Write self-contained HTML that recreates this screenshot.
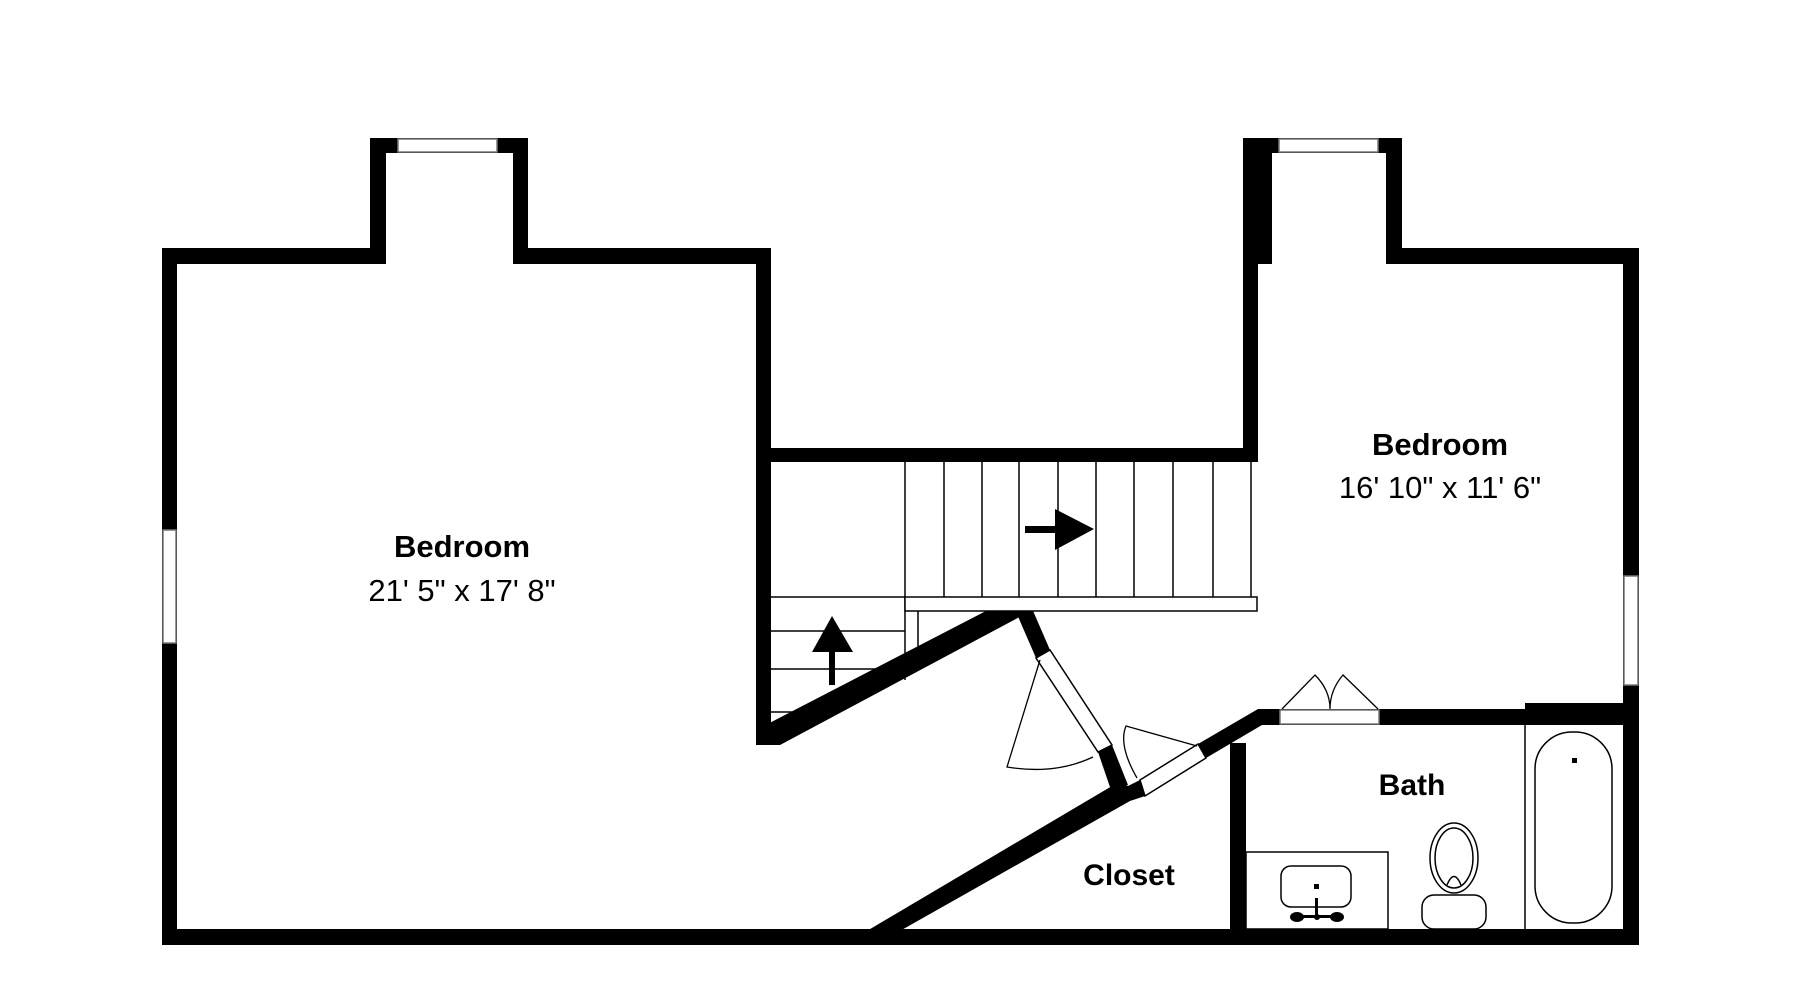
<!DOCTYPE html>
<html><head><meta charset="utf-8"><style>html,body{margin:0;padding:0;background:#fff;}svg{display:block}</style></head>
<body>
<svg width="1800" height="1000" viewBox="0 0 1800 1000" xmlns="http://www.w3.org/2000/svg" font-family="Liberation Sans, Arial, sans-serif">
<rect width="1800" height="1000" fill="#fff"/>
<g fill="#000">
<rect x="162" y="248" width="15" height="697"/>
<rect x="162" y="248" width="224" height="16"/>
<rect x="370" y="138" width="16" height="126"/>
<rect x="370" y="138" width="158" height="15"/>
<rect x="513" y="138" width="15" height="126"/>
<rect x="513" y="248" width="258" height="16"/>
<rect x="756" y="248" width="15" height="497"/>
<rect x="756" y="448" width="502" height="14"/>
<rect x="1243" y="138" width="15" height="324"/>
<rect x="1243" y="138" width="159" height="15"/>
<rect x="1258" y="153" width="14" height="111"/>
<rect x="1386" y="138" width="16" height="126"/>
<rect x="1386" y="248" width="253" height="16"/>
<rect x="1623" y="248" width="16" height="697"/>
<rect x="162" y="929" width="1477" height="16"/>
<rect x="1260" y="709" width="379" height="16"/>
<rect x="1525" y="703" width="114" height="22"/>
<rect x="1230" y="743" width="16" height="190"/>
<polygon points="756,730 1013,597 1027,597 1027,613 780,745 756,745"/>
<polygon points="1013,605 1027,597 1050,650 1036,658"/>
<polygon points="1098,752 1112,745 1128,785 1112,793"/>
<polygon points="1112,786 1130,786 1130,801 875,945 860,945 860,935"/>
<polygon points="1128,786 1140,780 1145,796 1130,801"/>
<polygon points="1198,744 1258,709 1272,709 1272,725 1262,725 1206,758"/>
</g>
<g fill="#fff" stroke="#777" stroke-width="1.5">
<rect x="398" y="139" width="99" height="13"/>
<rect x="1279" y="139" width="99" height="13"/>
<rect x="163" y="530" width="13" height="113"/>
<rect x="1624" y="576" width="14" height="109"/>
<rect x="1280" y="710" width="99" height="14"/>
</g>
<g fill="#fff" stroke="#000" stroke-width="1.5">
<polygon points="1036,658 1050,650 1112,745 1098,752"/>
<polygon points="1140,780 1198,744 1206,758 1145,796"/>
</g>
<g stroke="#000" stroke-width="1.5" fill="none">
<line x1="905" y1="462" x2="905" y2="680"/>
<line x1="944" y1="462" x2="944" y2="597"/>
<line x1="982" y1="462" x2="982" y2="597"/>
<line x1="1019" y1="462" x2="1019" y2="597"/>
<line x1="1058" y1="462" x2="1058" y2="597"/>
<line x1="1096" y1="462" x2="1096" y2="597"/>
<line x1="1134" y1="462" x2="1134" y2="597"/>
<line x1="1173" y1="462" x2="1173" y2="597"/>
<line x1="1213" y1="462" x2="1213" y2="597"/>
<line x1="1251" y1="462" x2="1251" y2="597"/>
<rect x="905" y="597" width="352" height="14" fill="#fff"/>
<line x1="918" y1="611" x2="918" y2="652"/>
<line x1="771" y1="597" x2="905" y2="597"/>
<line x1="771" y1="631" x2="905" y2="631"/>
<line x1="771" y1="669" x2="890" y2="669"/>
<line x1="771" y1="712" x2="808" y2="712"/>
</g>
<g fill="#000">
<rect x="1025" y="526" width="32" height="7"/>
<polygon points="1055,509 1094,529 1055,550"/>
<polygon points="832,616 853,652 812,652"/>
<rect x="829" y="651" width="6" height="34"/>
</g>
<g stroke="#000" stroke-width="1.3" fill="none">
<path d="M1040,660 L1007,767 Q1055,775 1093,757"/>
<path d="M1137,778 Q1118,745 1126,726 L1197,746"/>
<path d="M1282,709 L1315,675 Q1330,690 1330,709 Q1330,690 1343,675 L1378,709"/>
</g>
<g stroke="#000" stroke-width="1.5" fill="none">
<line x1="1525" y1="725" x2="1525" y2="929"/>
<rect x="1535" y="732" width="77" height="191" rx="37"/>
<rect x="1246" y="852" width="142" height="77"/>
<rect x="1281" y="866" width="70" height="41" rx="10"/>
<ellipse cx="1454" cy="858" rx="24" ry="35"/>
<ellipse cx="1454" cy="858" rx="19" ry="30"/>
<path d="M1447,885 Q1454,868 1461,885"/>
<rect x="1422" y="895" width="64" height="34" rx="12"/>
</g>
<g fill="#000">
<rect x="1572" y="758" width="5" height="5"/>
<rect x="1314" y="884" width="5" height="5"/>
<rect x="1315" y="898" width="3" height="18"/>
<rect x="1292" y="915" width="50" height="3"/>
<ellipse cx="1297" cy="917" rx="7" ry="5"/>
<ellipse cx="1337" cy="917" rx="7" ry="5"/>
<circle cx="1317" cy="917" r="3"/>
</g>
<g fill="#000" text-anchor="middle">
<text x="462" y="557" font-size="31" font-weight="bold">Bedroom</text>
<text x="462" y="601" font-size="31">21' 5" x 17' 8"</text>
<text x="1440" y="455" font-size="31" font-weight="bold">Bedroom</text>
<text x="1440" y="498" font-size="31">16' 10" x 11' 6"</text>
<text x="1412" y="795" font-size="30" font-weight="bold">Bath</text>
<text x="1129" y="885" font-size="30" font-weight="bold">Closet</text>
</g>
</svg>
</body></html>
